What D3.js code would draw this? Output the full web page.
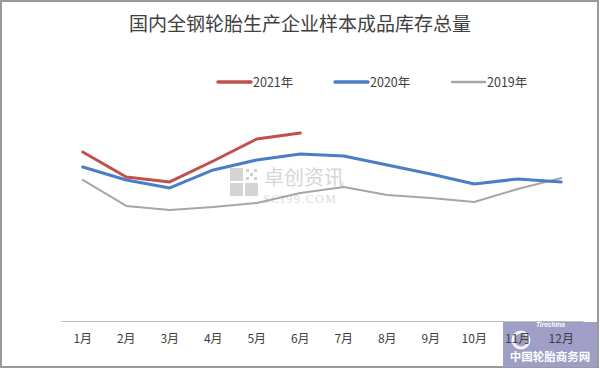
<!DOCTYPE html>
<html><head><meta charset="utf-8">
<script src="https://cdn.jsdelivr.net/npm/d3@7"></script>
<style>html,body{margin:0;padding:0;background:#fff;}svg{display:block;}</style>
</head><body>
<svg id="chart" width="600" height="369"></svg>
<script>
const months = ["1月","2月","3月","4月","5月","6月","7月","8月","9月","10月","11月","12月"];
const seriesNames = ["2021年","2020年","2019年"];
const v2021 = [211.3,180,173.8,200,227.5,235];
const v2020 = [192.5,176.3,166.3,188.8,201.3,208.8,206.3,195,183.8,171.3,177.5,173.8];
const v2019 = [176.3,143.8,138.8,142.5,147.5,160,167.5,157.5,153.8,148.8,165,178.8];
const colors = ["#C0504D","#4A7EC6","#A6A6A6"];
const widths = [3,3,2];
const title = "国内全钢轮胎生产企业样本成品库存总量";

const svg = d3.select("#chart");
const W = 600, H = 369;
const font = "'Noto Sans CJK SC','Noto Sans',sans-serif";

// outer border
svg.append("rect").attr("x",1).attr("y",1).attr("width",W-3).attr("height",H-3)
  .attr("fill","#fff").attr("stroke","#9a9a9a").attr("stroke-width",2);

// title
svg.append("text").attr("x",300).attr("y",31).attr("text-anchor","middle")
  .attr("font-family",font).attr("font-size",19).attr("fill","#404040").text(title);

const x = d3.scaleBand().domain(months).range([61,583]);
const y = d3.scaleLinear().domain([0,300]).range([321,81]);

// watermark (卓创资讯)
const wm = svg.append("g");
[[230,168],[245,168],[230,183],[245,183]].forEach(([a,b],i)=>{
  wm.append("rect").attr("x",a).attr("y",b).attr("width",13).attr("height",13)
    .attr("fill", i===1 ? "none" : "#d4d4d4");
});
for(let i=0;i<3;i++)for(let j=0;j<3;j++){
  if((i+j)%2===0) wm.append("rect").attr("x",246+i*4).attr("y",169+j*4).attr("width",3).attr("height",3).attr("fill","#d0d0d0");
}
wm.append("text").attr("x",264).attr("y",185).attr("font-family",font).attr("font-size",20)
  .attr("fill","#d6d6d6").text("卓创资讯");
wm.append("text").attr("x",263).attr("y",203).attr("font-family","'Liberation Serif',serif")
  .attr("font-size",12).attr("fill","#dcdcdc").attr("letter-spacing",1.5).text("SCI99.COM");

// bottom-right logo box (behind axis labels)
const lg = svg.append("g");
lg.append("rect").attr("x",503).attr("y",322).attr("width",94).attr("height",45).attr("fill","#9e9ec6");
lg.append("circle").attr("cx",521).attr("cy",340).attr("r",8).attr("fill","none").attr("stroke","#f3f3f3").attr("stroke-width",3);
lg.append("text").attr("x",536).attr("y",327).attr("font-family","'Liberation Sans',sans-serif")
  .attr("font-style","italic").attr("font-weight","bold").attr("font-size",6.5).attr("fill","#fff").text("Tirechina");
lg.append("text").attr("x",550).attr("y",361).attr("text-anchor","middle").attr("font-family",font)
  .attr("font-weight","bold").attr("font-size",11.5).attr("fill","#fff").text("中国轮胎商务网");

// axis
const xAxis = d3.axisBottom(x).tickSize(0).tickPadding(13);
const ax = svg.append("g").attr("transform","translate(0,321)").call(xAxis);
ax.select(".domain").attr("stroke","#BFBFBF").attr("stroke-width",1.2);
ax.selectAll("text").attr("font-family",font).attr("font-size",12).attr("fill","#404040");

// lines
const data = [v2021,v2020,v2019];
const line = d3.line().x((d,i)=>x(months[i])+x.bandwidth()/2).y(d=>y(d));
[2,1,0].forEach(k=>{
  svg.append("path").datum(data[k]).attr("d",line).attr("fill","none")
    .attr("stroke",colors[k]).attr("stroke-width",widths[k])
    .attr("stroke-linejoin","round").attr("stroke-linecap","round");
});

// legend
const legX = [218,335,452];
seriesNames.forEach((n,i)=>{
  const g = svg.append("g").attr("transform",`translate(${legX[i]},82)`);
  g.append("line").attr("x1",0).attr("x2",33).attr("y1",0).attr("y2",0)
    .attr("stroke",colors[i]).attr("stroke-width",widths[i]+0.5).attr("stroke-linecap","round");
  g.append("text").attr("x",35).attr("y",4.5).attr("font-family",font).attr("font-size",12.5)
    .attr("fill","#404040").text(n);
});
</script>
</body></html>
